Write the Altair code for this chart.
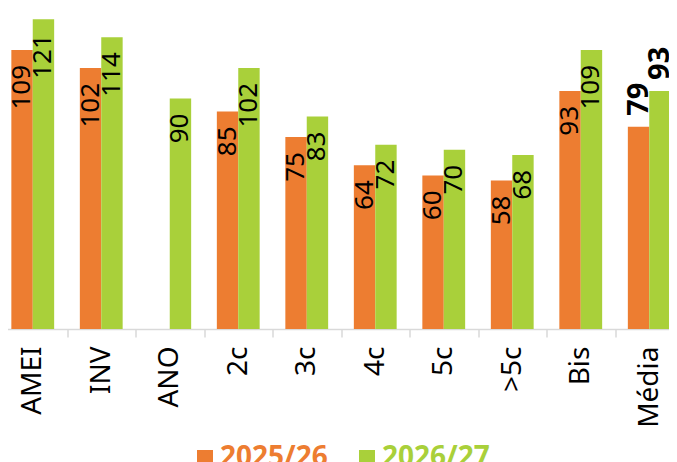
import altair as alt
import pandas as pd

categories = ["AMEI", "INV", "ANO", "2c", "3c", "4c", "5c", ">5c", "Bis", "Média"]
series = ["2025/26", "2026/27"]
values_2526 = [109, 102, None, 85, 75, 64, 60, 58, 93, 79]
values_2627 = [121, 114, 90, 102, 83, 72, 70, 68, 109, 93]
colors = ["#ED7D31", "#A9D03A"]

rows = []
for c, a, b in zip(categories, values_2526, values_2627):
    rows.append({"cat": c, "series": series[0], "value": a})
    rows.append({"cat": c, "series": series[1], "value": b})
df = pd.DataFrame(rows)

FONT = "Noto Sans"

x_enc = alt.X("cat:N", sort=categories, title=None,
              scale=alt.Scale(paddingInner=0, paddingOuter=0),
              axis=alt.Axis(labelAngle=270, labelAlign="right", labelBaseline="middle",
                            labelFontSize=28, labelFont=FONT, labelColor="#000000",
                            labelPadding=9, tickBand="extent", tickSize=8,
                            tickColor="#d9d9d9", domainColor="#d9d9d9",
                            domainWidth=1.5, tickWidth=1.5, grid=False))
xo_enc = alt.XOffset("series:N", sort=series,
                     scale=alt.Scale(paddingOuter=0.6, paddingInner=0))
y_enc = alt.Y("value:Q", scale=alt.Scale(domain=[0, 125], nice=False, zero=True), axis=None)

base = alt.Chart(df).transform_filter("isValid(datum.value)")

bars = base.mark_bar().encode(
    x=x_enc,
    xOffset=xo_enc,
    y=y_enc,
    color=alt.Color("series:N", sort=series,
                    scale=alt.Scale(domain=series, range=colors),
                    legend=alt.Legend(title=None, orient="none", direction="horizontal",
                                      legendX=192.5, legendY=435, padding=0,
                                      symbolType="square", symbolSize=256,
                                      symbolStrokeWidth=0, labelFontSize=28,
                                      labelFont=FONT, labelFontWeight="bold",
                                      labelOffset=1, columnPadding=25,
                                      labelColor={"expr": "datum.label == '2025/26' ? '#ED7D31' : '#A9D03A'"})),
)

text_norm = base.transform_filter("datum.cat != 'Média'").mark_text(
    angle=270, align="right", baseline="middle", dx=-15,
    fontSize=26, font=FONT, color="#000000"
).encode(x=alt.X("cat:N", sort=categories), xOffset=xo_enc, y=y_enc, text=alt.Text("value:Q"))

text_bold = base.transform_filter("datum.cat == 'Média'").mark_text(
    angle=270, align="left", baseline="middle", dx=11,
    fontSize=29, font=FONT, fontWeight="bold", color="#000000"
).encode(x=alt.X("cat:N", sort=categories), xOffset=xo_enc, y=y_enc, text=alt.Text("value:Q"))

chart = alt.layer(bars, text_norm, text_bold).properties(
    width=685, height=320,
    padding={"left": -9.5, "right": -14.5, "top": 1, "bottom": 133},
    autosize=alt.AutoSizeParams(type="none"),
).configure_view(stroke=None)

chart.save("out.html", embed_options={"renderer": "svg", "actions": False})
